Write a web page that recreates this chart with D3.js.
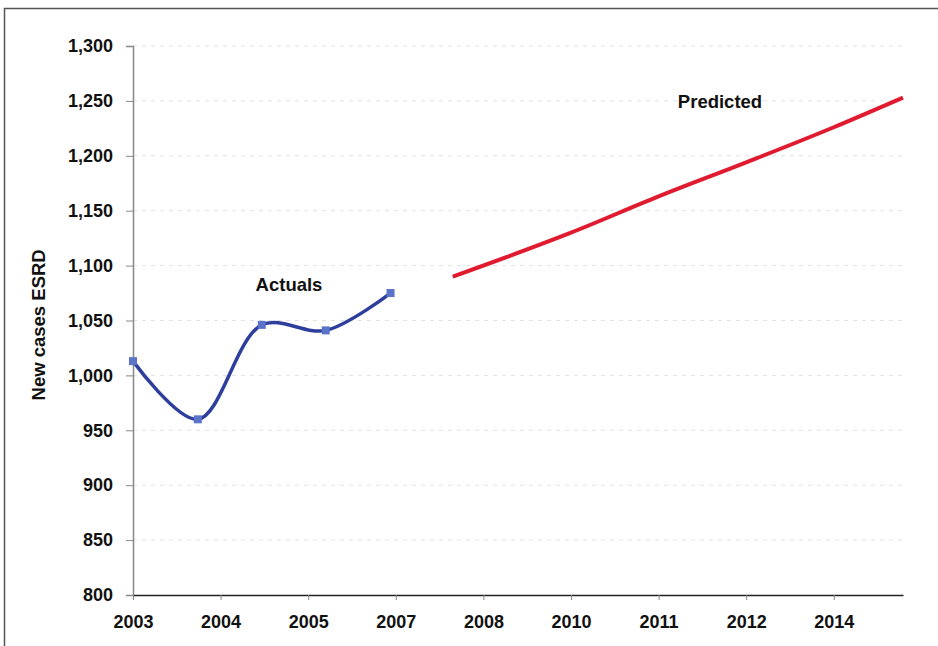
<!DOCTYPE html>
<html><head><meta charset="utf-8">
<script src="https://cdn.jsdelivr.net/npm/d3@7"></script>
<style>body{margin:0;background:#fff}svg{display:block}</style>
</head><body>
<script>
// ---- data ----
const tickLabels = ["2003","2004","2005","2007","2008","2010","2011","2012","2014"];
const yTicks = [800,850,900,950,1000,1050,1100,1150,1200,1250,1300];
const actualPos = [0, 0.74, 1.47, 2.2, 2.94];
const actualVals = [1013, 960, 1046, 1041, 1075];
const predPos = [3.65, 5, 6, 7, 8, 8.79];
const predVals = [1090, 1130, 1163, 1194, 1226, 1253];

const W = 938, H = 646;
const svg = d3.select("body").append("svg").attr("width", W).attr("height", H);
svg.append("rect").attr("x",4.5).attr("y",8.5).attr("width",W).attr("height",H)
  .attr("fill","none").attr("stroke","#555").attr("stroke-width",1.5);

const x = d3.scaleLinear().domain([0, 8.79]).range([133, 903]);
const y = d3.scaleLinear().domain([800, 1300]).range([595, 46]);
const font = "Liberation Sans, Arial, sans-serif";

// gridlines
svg.append("g").selectAll("line").data(yTicks.filter(v=>v>800)).join("line")
  .attr("x1", x(0)).attr("x2", x(8.79)).attr("y1", d=>y(d)).attr("y2", d=>y(d))
  .attr("stroke","#e2e2e2").attr("stroke-dasharray","4,5").attr("stroke-width",1);

// y axis
const ya = svg.append("g").attr("transform",`translate(${x(0)},0)`)
  .call(d3.axisLeft(y).tickValues(yTicks).tickFormat(d3.format(",")).tickSize(7).tickPadding(13));
ya.select(".domain").attr("stroke","#888").attr("stroke-width",1.5);
ya.selectAll(".tick line").attr("stroke","#888");
ya.selectAll("text").attr("font-family",font).attr("font-weight","bold").attr("font-size",18).attr("fill","#111");

// x axis
const xa = svg.append("g").attr("transform",`translate(0,${y(800)})`)
  .call(d3.axisBottom(x).tickValues(d3.range(tickLabels.length)).tickFormat(i=>tickLabels[i]).tickSize(5).tickSizeOuter(0).tickPadding(15));
xa.select(".domain").attr("stroke","#222").attr("stroke-width",1.5);
xa.selectAll(".tick line").attr("stroke","#888");
xa.selectAll("text").attr("font-family",font).attr("font-weight","bold").attr("font-size",18).attr("fill","#111");

// y title
svg.append("text").attr("transform",`translate(45,${y(1046)}) rotate(-90)`)
  .attr("text-anchor","middle").attr("font-family",font).attr("font-weight","bold")
  .attr("font-size",18.5).attr("fill","#111").text("New cases ESRD");

// actuals
const actual = actualPos.map((p,i)=>({p, v: actualVals[i]}));
svg.append("path").datum(actual)
  .attr("d", d3.line().x(d=>x(d.p)).y(d=>y(d.v)).curve(d3.curveCatmullRom.alpha(0.5)))
  .attr("fill","none").attr("stroke","#2e3e9c").attr("stroke-width",3.5);
svg.append("g").selectAll("rect").data(actual).join("rect")
  .attr("x", d=>x(d.p)-4).attr("y", d=>y(d.v)-4).attr("width",8).attr("height",8)
  .attr("fill","#5b73c9");

// predicted
const pred = predPos.map((p,i)=>({p, v: predVals[i]}));
svg.append("path").datum(pred)
  .attr("d", d3.line().x(d=>x(d.p)).y(d=>y(d.v)).curve(d3.curveMonotoneX))
  .attr("fill","none").attr("stroke","#e01b2f").attr("stroke-width",4);

// labels
svg.append("text").attr("x",289).attr("y",y(1077)).attr("text-anchor","middle")
  .attr("font-family",font).attr("font-weight","bold").attr("font-size",18.5).attr("fill","#111").text("Actuals");
svg.append("text").attr("x",720).attr("y",y(1243.5)).attr("text-anchor","middle")
  .attr("font-family",font).attr("font-weight","bold").attr("font-size",18.5).attr("fill","#111").text("Predicted");
</script>
</body></html>
